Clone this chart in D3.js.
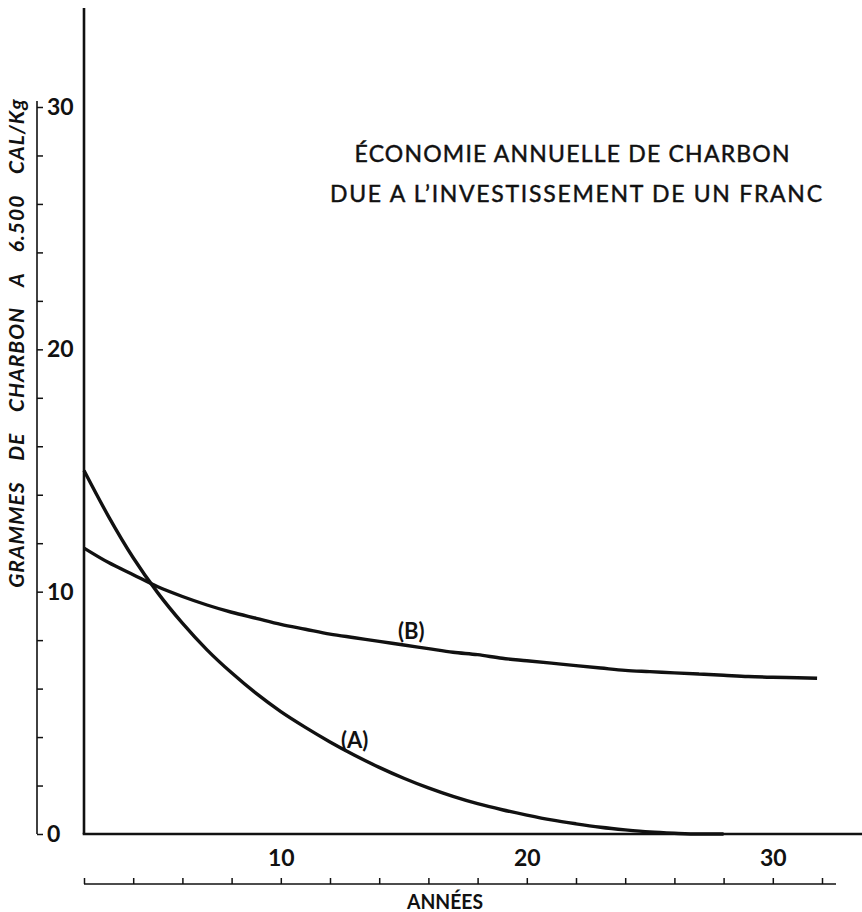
<!DOCTYPE html>
<html>
<head>
<meta charset="utf-8">
<script src="https://cdn.jsdelivr.net/npm/d3@7"></script>
<style>
  body { margin: 0; background: #fff; }
  svg { display: block; }
  text { font-family: Lato, "Open Sans", sans-serif; fill: #111; }
</style>
</head>
<body>
<div id="chart"></div>
<script>
// years (x) and grams of coal saved per franc (y)
var yearsA = [2, 3, 4, 5, 6, 7, 8, 9, 10, 11, 12, 13, 14, 15, 16, 17, 18, 19, 20, 21, 22, 23, 24, 25, 26, 27, 28];
var valuesA = [15.0, 13.1, 11.4, 9.95, 8.7, 7.6, 6.65, 5.8, 5.05, 4.4, 3.8, 3.25, 2.75, 2.3, 1.9, 1.55, 1.25, 1.0, 0.78, 0.58, 0.42, 0.28, 0.17, 0.08, 0.03, 0, 0];

var yearsB = [2, 3, 4, 5, 6, 7, 8, 9, 10, 11, 12, 13, 14, 15, 16, 17, 18, 19, 20, 21, 22, 23, 24, 25, 26, 27, 28, 29, 30, 31, 31.8];
var valuesB = [11.8, 11.2, 10.7, 10.2, 9.8, 9.45, 9.15, 8.9, 8.65, 8.45, 8.25, 8.1, 7.95, 7.8, 7.65, 7.5, 7.4, 7.25, 7.15, 7.05, 6.95, 6.85, 6.75, 6.7, 6.65, 6.6, 6.55, 6.5, 6.47, 6.45, 6.43];

var yTicks = [0, 2, 4, 6, 8, 10, 12, 14, 16, 18, 20, 22, 24, 26, 28, 30];
var yLabels = [0, 10, 20, 30];
var xTicks = [2, 4, 6, 8, 10, 12, 14, 16, 18, 20, 22, 24, 26, 28, 30, 32];
var xLabels = [10, 20, 30];

var titleLines = ["ÉCONOMIE ANNUELLE DE CHARBON", "DUE A L\u2019INVESTISSEMENT DE UN FRANC"];

var svg = d3.select("#chart")
    .append("svg")
    .attr("width", 862)
    .attr("height", 912);

var x = d3.scaleLinear().domain([2, 32]).range([84, 822]),
    y = d3.scaleLinear().domain([0, 30]).range([834, 107]);

// plot frame (the two heavy lines)
svg.append("line")
    .attr("x1", x(2)).attr("x2", x(2))
    .attr("y1", 8).attr("y2", y(0))
    .attr("stroke", "#111").attr("stroke-width", 2.6);
svg.append("line")
    .attr("x1", x(2) - 1.3).attr("x2", 862)
    .attr("y1", y(0)).attr("y2", y(0))
    .attr("stroke", "#111").attr("stroke-width", 2.6);

// detached y scale on the left
var yAxis = svg.append("g")
    .attr("transform", "translate(37,0)")
    .call(d3.axisRight(y)
        .tickValues(yTicks)
        .tickSize(6)
        .tickPadding(4)
        .tickFormat(function(d) { return yLabels.indexOf(d) >= 0 ? d : ""; }));
yAxis.select(".domain").remove();
yAxis.append("line")
    .attr("x1", 0).attr("x2", 0)
    .attr("y1", y(30) - 6).attr("y2", y(0))
    .attr("stroke", "#111").attr("stroke-width", 1.6);
yAxis.selectAll(".tick line").attr("stroke", "#111").attr("stroke-width", 1.5);
yAxis.selectAll(".tick text")
    .style("font", "bold 23px Lato, sans-serif")
    .attr("fill", "#111");

// detached x scale below
var xAxis = svg.append("g")
    .attr("transform", "translate(0,884)")
    .call(d3.axisTop(x)
        .tickValues(xTicks)
        .tickSize(6)
        .tickPadding(12)
        .tickFormat(function(d) { return xLabels.indexOf(d) >= 0 ? d : ""; }));
xAxis.select(".domain").remove();
xAxis.append("line")
    .attr("x1", x(2)).attr("x2", 836)
    .attr("y1", 0).attr("y2", 0)
    .attr("stroke", "#111").attr("stroke-width", 1.6);
xAxis.selectAll(".tick line").attr("stroke", "#111").attr("stroke-width", 1.5);
xAxis.selectAll(".tick text")
    .style("font", "bold 23px Lato, sans-serif")
    .attr("fill", "#111");

svg.append("text")
    .attr("x", 445)
    .attr("y", 909)
    .attr("text-anchor", "middle")
    .style("font", "bold 20px Lato, sans-serif")
    .attr("textLength", 76)
    .attr("lengthAdjust", "spacingAndGlyphs")
    .text("ANNÉES");

svg.append("text")
    .attr("transform", "translate(24,343) rotate(-90)")
    .attr("text-anchor", "middle")
    .style("font", "italic bold 21px Lato, sans-serif")
    .style("letter-spacing", "1px")
    .style("word-spacing", "15px")
    .text("GRAMMES DE CHARBON A 6.500 CAL/Kg");

// title
svg.selectAll(".title")
    .data(titleLines)
    .enter().append("text")
      .attr("class", "title")
      .attr("x", function(d, i) { return i == 0 ? 572 : 576; })
      .attr("y", function(d, i) { return 162 + i * 40; })
      .attr("text-anchor", "middle")
      .style("font", "23px Lato, sans-serif")
      .attr("stroke", "#111")
      .attr("stroke-width", 0.45)
      .attr("textLength", function(d, i) { return i == 0 ? 435 : 492; })
      .attr("lengthAdjust", "spacing")
      .text(function(d) { return d; });

// curves
var line = d3.line()
    .x(function(d) { return x(d[0]); })
    .y(function(d) { return y(d[1]); })
    .curve(d3.curveMonotoneX);

var seriesA = yearsA.map(function(t, i) { return [t, valuesA[i]]; }),
    seriesB = yearsB.map(function(t, i) { return [t, valuesB[i]]; });

svg.append("path")
    .datum(seriesA)
    .attr("fill", "none")
    .attr("stroke", "#111")
    .attr("stroke-width", 3.4)
    .attr("d", line);

svg.append("path")
    .datum(seriesB)
    .attr("fill", "none")
    .attr("stroke", "#111")
    .attr("stroke-width", 3.4)
    .attr("d", line);

svg.append("text")
    .attr("x", x(13.0))
    .attr("y", y(3.3) - 6)
    .attr("text-anchor", "middle")
    .style("font", "bold 22px Lato, sans-serif")
    .text("(A)");

svg.append("text")
    .attr("x", x(15.3))
    .attr("y", y(7.8) - 6)
    .attr("text-anchor", "middle")
    .style("font", "bold 22px Lato, sans-serif")
    .text("(B)");
</script>
</body>
</html>
